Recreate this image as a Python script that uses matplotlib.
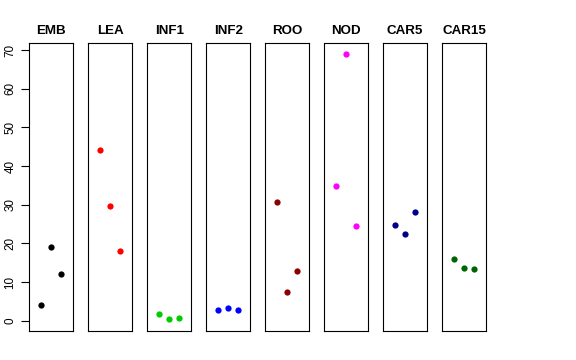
import numpy as np
import matplotlib.pyplot as plt

plt.rcParams['font.family'] = ['Liberation Sans', 'DejaVu Sans']

# tissues and three replicate values each
tissues = ['EMB', 'LEA', 'INF1', 'INF2', 'ROO', 'NOD', 'CAR5', 'CAR15']
values = {
    'EMB': [4.1, 19.0, 12.2],
    'LEA': [44.1, 29.6, 18.0],
    'INF1': [1.8, 0.4, 0.7],
    'INF2': [2.85, 3.4, 2.9],
    'ROO': [30.8, 7.4, 12.8],
    'NOD': [34.8, 69.1, 24.6],
    'CAR5': [24.8, 22.5, 28.2],
    'CAR15': [16.0, 13.6, 13.4],
}
colors = ['black', 'red', '#00CD00', 'blue', '#8B0000', 'magenta', '#00008B', '#006400']
replicates = [1, 2, 3]
yticks = [0, 10, 20, 30, 40, 50, 60, 70]

W, H = 576, 360
fig = plt.figure(figsize=(W / 100, H / 100), dpi=100)

left0, pitch, pw = 29, 59, 44.3
top, bottom = 42.7, 331

for i, t in enumerate(tissues):
    ax = fig.add_axes([(left0 + i * pitch) / W, (H - bottom) / H, pw / W, (bottom - top) / H])
    ax.plot(replicates, values[t], 'o', color=colors[i], markersize=4.5, markeredgewidth=0)
    ax.set_xlim(-0.16, 4.16)
    ax.set_ylim(-2.66, 71.9)
    ax.set_xticks([])
    for s in ax.spines.values():
        s.set_linewidth(0.8)
    ax.set_title(t, fontsize=9.6, fontweight='bold', pad=6)
    if i == 0:
        ax.set_yticks(yticks)
        ax.set_yticklabels([str(v) for v in yticks], rotation=90, va='center', fontsize=8.4)
        ax.tick_params(axis='y', length=6, width=0.8, pad=3)
    else:
        ax.set_yticks([])

fig.savefig('out.png', dpi=100)
